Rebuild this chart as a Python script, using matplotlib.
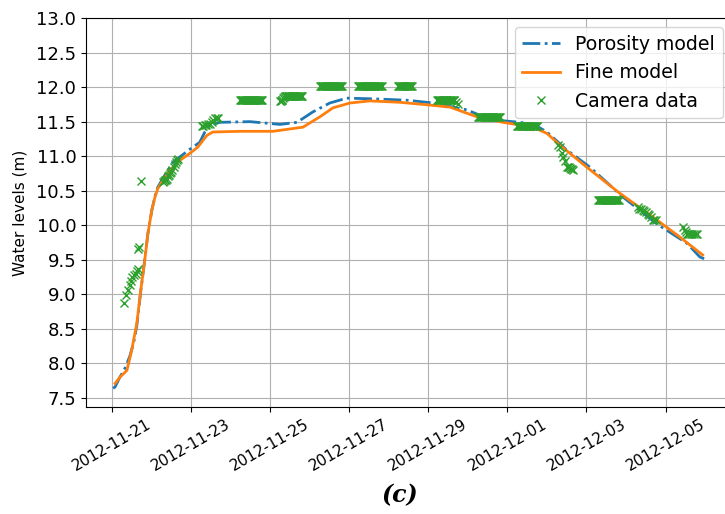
import matplotlib
matplotlib.use("Agg")
import matplotlib.pyplot as plt
import matplotlib.dates as mdates
import pandas as pd
import numpy as np

base = pd.Timestamp("2012-11-21")

# Porosity model (days since 2012-11-21 00:00, water level m)
por_t = [0.03, 0.08, 0.20, 0.33, 0.45, 0.55, 0.63, 0.73, 0.83, 0.91, 1.01, 1.09, 1.16, 1.29,
         1.54, 1.97, 2.22, 2.35, 2.48, 2.73, 3.49, 4.25, 4.68, 5.08, 5.51, 5.94, 6.60,
         7.46, 8.12, 8.72, 8.98, 9.56, 10.32, 10.70, 11.00, 11.50, 12.09, 12.92, 13.78,
         14.54, 14.87, 15.00]
por_v = [7.64, 7.66, 7.80, 7.93, 8.10, 8.30, 8.55, 9.05, 9.50, 9.88, 10.22, 10.42, 10.55, 10.68,
         10.91, 11.10, 11.20, 11.35, 11.45, 11.49, 11.50, 11.46, 11.49, 11.64, 11.77, 11.84,
         11.83, 11.81, 11.77, 11.70, 11.67, 11.53, 11.49, 11.45, 11.35, 11.09, 10.84, 10.41,
         10.02, 9.74, 9.54, 9.51]

# Fine model
fine_t = [0.08, 0.20, 0.38, 0.50, 0.63, 0.73, 0.83, 0.91, 1.01, 1.09, 1.16, 1.29, 1.47, 1.72,
          1.97, 2.17, 2.40, 2.55, 3.24, 4.07, 4.83, 5.26, 5.59, 6.02, 6.52, 7.28, 8.04,
          8.55, 9.23, 9.89, 10.65, 11.00, 11.33, 12.01, 12.85, 13.68, 14.36, 14.94]
fine_v = [7.71, 7.80, 7.90, 8.19, 8.58, 9.06, 9.49, 9.88, 10.22, 10.41, 10.53, 10.65, 10.80, 10.94,
          11.04, 11.13, 11.30, 11.35, 11.36, 11.36, 11.42, 11.57, 11.70, 11.77, 11.80, 11.78, 11.74,
          11.71, 11.57, 11.49, 11.42, 11.33, 11.16, 10.84, 10.46, 10.12, 9.83, 9.57]

# Camera data, grouped by day (days since 2012-11-21 00:00, water level m)
cam0_t = [0.31, 0.36, 0.41, 0.45, 0.48, 0.52, 0.56, 0.60, 0.64, 0.66, 0.65, 0.69, 0.74]
cam0_v = [8.87, 8.99, 9.06, 9.13, 9.20, 9.25, 9.28, 9.30, 9.34, 9.37, 9.65, 9.68, 10.64]

cam1_t = [1.29, 1.31, 1.34, 1.36, 1.39, 1.42, 1.45, 1.47, 1.50, 1.52, 1.56, 1.59, 1.62, 1.64, 1.67]
cam1_v = [10.63, 10.64, 10.65, 10.66, 10.67, 10.72, 10.73, 10.75, 10.77, 10.80, 10.84, 10.88, 10.91, 10.94, 10.96]

cam2_t = [2.28, 2.31, 2.35, 2.39, 2.43, 2.48, 2.52, 2.56, 2.61, 2.65, 2.68]
cam2_v = [11.43, 11.44, 11.45, 11.45, 11.46, 11.47, 11.50, 11.52, 11.55, 11.55, 11.55]

cam3_t = [3.24, 3.26, 3.28, 3.30, 3.32, 3.34, 3.36, 3.38, 3.40, 3.42,
          3.44, 3.46, 3.48, 3.50, 3.52, 3.54, 3.56, 3.58, 3.60, 3.62,
          3.64, 3.66, 3.68, 3.70, 3.72, 3.74, 3.76, 3.78, 3.80]
cam3_v = [11.82, 11.82, 11.82, 11.82, 11.82, 11.82, 11.82, 11.82, 11.82, 11.82,
          11.82, 11.82, 11.82, 11.82, 11.82, 11.82, 11.82, 11.82, 11.82, 11.82,
          11.82, 11.82, 11.82, 11.82, 11.82, 11.82, 11.82, 11.82, 11.82]

cam4_t = [4.25, 4.27, 4.29, 4.31, 4.33, 4.35, 4.37, 4.39, 4.41, 4.43,
          4.45, 4.47, 4.49, 4.51, 4.53, 4.55, 4.57, 4.59, 4.61, 4.63,
          4.65, 4.67, 4.69, 4.71, 4.73, 4.75, 4.77, 4.79, 4.81]
cam4_v = [11.80, 11.80, 11.81, 11.82, 11.84, 11.86, 11.87, 11.87, 11.87, 11.87,
          11.87, 11.87, 11.87, 11.87, 11.87, 11.87, 11.87, 11.87, 11.87, 11.87,
          11.87, 11.87, 11.87, 11.87, 11.87, 11.87, 11.87, 11.87, 11.87]

cam5_t = [5.26, 5.28, 5.30, 5.32, 5.34, 5.36, 5.38, 5.40, 5.42, 5.44,
          5.46, 5.48, 5.50, 5.52, 5.54, 5.56, 5.58, 5.60, 5.62, 5.64,
          5.66, 5.68, 5.70, 5.72, 5.74, 5.76, 5.78, 5.80, 5.82]
cam5_v = [12.02, 12.02, 12.02, 12.02, 12.02, 12.02, 12.02, 12.02, 12.02, 12.02,
          12.02, 12.02, 12.02, 12.02, 12.02, 12.02, 12.02, 12.02, 12.02, 12.02,
          12.02, 12.02, 12.02, 12.02, 12.02, 12.02, 12.02, 12.02, 12.02]

cam6_t = [6.22, 6.24, 6.26, 6.28, 6.30, 6.32, 6.34, 6.36, 6.38, 6.40,
          6.42, 6.44, 6.46, 6.48, 6.50, 6.52, 6.54, 6.56, 6.58, 6.60,
          6.62, 6.64, 6.66, 6.68, 6.70, 6.72, 6.74, 6.76, 6.78, 6.80,
          6.82]
cam6_v = [12.02, 12.02, 12.02, 12.02, 12.02, 12.02, 12.02, 12.02, 12.02, 12.02,
          12.02, 12.02, 12.02, 12.02, 12.02, 12.02, 12.02, 12.02, 12.02, 12.02,
          12.02, 12.02, 12.02, 12.02, 12.02, 12.02, 12.02, 12.02, 12.02, 12.02,
          12.02]

cam7_t = [7.23, 7.25, 7.27, 7.29, 7.31, 7.33, 7.35, 7.37, 7.39, 7.41,
          7.43, 7.45, 7.47, 7.49, 7.51, 7.53, 7.55, 7.57, 7.59]
cam7_v = [12.02, 12.02, 12.02, 12.02, 12.02, 12.02, 12.02, 12.02, 12.02, 12.02,
          12.02, 12.02, 12.02, 12.02, 12.02, 12.02, 12.02, 12.02, 12.02]

cam8_t = [8.22, 8.24, 8.26, 8.28, 8.30, 8.32, 8.34, 8.36, 8.38, 8.40,
          8.42, 8.44, 8.46, 8.48, 8.50, 8.52, 8.54, 8.56, 8.58, 8.60,
          8.62, 8.64, 8.66, 8.70, 8.75]
cam8_v = [11.82, 11.82, 11.82, 11.82, 11.82, 11.82, 11.82, 11.82, 11.82, 11.82,
          11.82, 11.82, 11.82, 11.82, 11.82, 11.82, 11.82, 11.82, 11.82, 11.82,
          11.82, 11.82, 11.82, 11.78, 11.76]

cam9_t = [9.26, 9.28, 9.30, 9.32, 9.34, 9.36, 9.38, 9.40, 9.42, 9.44,
          9.46, 9.48, 9.50, 9.52, 9.54, 9.56, 9.58, 9.60, 9.62, 9.64,
          9.66, 9.68, 9.70, 9.72, 9.74, 9.76, 9.78, 9.80, 9.82]
cam9_v = [11.57, 11.57, 11.57, 11.57, 11.57, 11.57, 11.57, 11.57, 11.57, 11.57,
          11.57, 11.57, 11.57, 11.57, 11.57, 11.57, 11.57, 11.57, 11.57, 11.57,
          11.57, 11.57, 11.57, 11.57, 11.57, 11.57, 11.57, 11.57, 11.57]

cam10_t = [10.24, 10.26, 10.28, 10.30, 10.32, 10.34, 10.36, 10.38, 10.40, 10.42,
           10.44, 10.46, 10.48, 10.50, 10.52, 10.54, 10.56, 10.58, 10.60, 10.62,
           10.64, 10.66, 10.68, 10.70, 10.72, 10.74, 10.76]
cam10_v = [11.43, 11.43, 11.43, 11.43, 11.43, 11.43, 11.43, 11.43, 11.43, 11.43,
           11.43, 11.43, 11.43, 11.43, 11.43, 11.43, 11.43, 11.43, 11.43, 11.43,
           11.43, 11.43, 11.43, 11.43, 11.43, 11.43, 11.43]

cam11_t = [11.28, 11.33, 11.38, 11.41, 11.46, 11.51, 11.54, 11.56, 11.59, 11.61, 11.64, 11.66]
cam11_v = [11.16, 11.14, 11.04, 10.99, 10.93, 10.85, 10.85, 10.84, 10.83, 10.82, 10.81, 10.80]

cam12_t = [12.29, 12.31, 12.33, 12.35, 12.37, 12.39, 12.41, 12.43, 12.45, 12.47,
           12.49, 12.51, 12.53, 12.55, 12.57, 12.59, 12.61, 12.63, 12.65, 12.67,
           12.69, 12.71, 12.73, 12.75, 12.77, 12.79, 12.81]
cam12_v = [10.36, 10.36, 10.36, 10.36, 10.36, 10.36, 10.36, 10.36, 10.36, 10.36,
           10.36, 10.36, 10.36, 10.36, 10.36, 10.36, 10.36, 10.36, 10.36, 10.36,
           10.36, 10.36, 10.36, 10.36, 10.36, 10.36, 10.36]

cam13_t = [13.30, 13.34, 13.38, 13.43, 13.46, 13.50, 13.55, 13.59, 13.63, 13.68, 13.72, 13.76]
cam13_v = [10.26, 10.24, 10.23, 10.22, 10.20, 10.19, 10.17, 10.15, 10.12, 10.08, 10.08, 10.07]

cam14_t = [14.44, 14.48, 14.52, 14.55, 14.57, 14.60, 14.64, 14.68, 14.72, 14.76, 14.79]
cam14_v = [9.97, 9.93, 9.90, 9.88, 9.87, 9.87, 9.87, 9.87, 9.87, 9.87, 9.87]

cam_t = (cam0_t + cam1_t + cam2_t + cam3_t + cam4_t + cam5_t + cam6_t + cam7_t
         + cam8_t + cam9_t + cam10_t + cam11_t + cam12_t + cam13_t + cam14_t)
cam_v = (cam0_v + cam1_v + cam2_v + cam3_v + cam4_v + cam5_v + cam6_v + cam7_v
         + cam8_v + cam9_v + cam10_v + cam11_v + cam12_v + cam13_v + cam14_v)


def to_dt(t):
    return base + pd.to_timedelta(np.asarray(t), unit="D")


W, H = 725, 514
fig = plt.figure(figsize=(W / 100, H / 100), dpi=100)
ax = fig.add_axes([86 / W, (H - 407) / H, (732 - 86) / W, (407 - 18) / H])

ax.plot(to_dt(por_t), por_v, linestyle="-.", color="#1f77b4", lw=2, label="Porosity model")
ax.plot(to_dt(fine_t), fine_v, linestyle="-", color="#ff7f0e", lw=2, label="Fine model")
ax.plot(to_dt(cam_t), cam_v, linestyle="none", marker="x", color="#2ca02c", ms=6,
        label="Camera data")

ax.set_xlim(base + pd.Timedelta(days=-0.655), base + pd.Timedelta(days=15.68))
ax.set_ylim(7.37, 13.0)
ax.set_yticks(np.arange(7.5, 13.01, 0.5))
ax.xaxis.set_major_locator(mdates.DayLocator(bymonthday=[21, 23, 25, 27, 29, 1, 3, 5]))
ax.xaxis.set_major_formatter(mdates.DateFormatter("%Y-%m-%d"))
ax.tick_params(axis="y", labelsize=13)
ax.tick_params(axis="x", labelsize=11, labelrotation=30)
ax.grid(True)
ax.set_ylabel("Water levels (m)", fontsize=11, labelpad=6)
ax.legend(loc="upper right", fontsize=13.6)

fig.text(0.552, 0.037, "(c)", ha="center", va="center", fontsize=17,
         family="DejaVu Serif", style="italic", weight="bold")

fig.savefig("out.png", dpi=100)
